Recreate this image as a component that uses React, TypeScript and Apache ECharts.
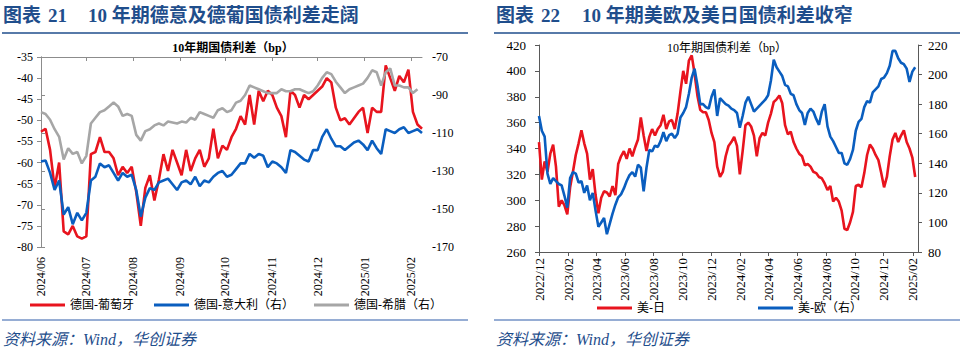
import React, { useEffect, useRef } from 'react';
import * as echarts from 'echarts';

// ---------- data ----------
const LEFT_STEP = 3; // days between points, left chart (day 0 = 2024/06/01)
const RIGHT_STEP = 6; // days between points, right chart (day 0 = 2022/12/01)
const LEFT_X_MAX = 252;
const RIGHT_X_MAX = 804;

const leftMonthLabels = ['2024/06', '2024/07', '2024/08', '2024/09', '2024/10', '2024/11', '2024/12', '2025/01', '2025/02'];
const rightMonthLabels = ['2022/12', '2023/02', '2023/04', '2023/06', '2023/08', '2023/10', '2023/12', '2024/02', '2024/04', '2024/06', '2024/08', '2024/10', '2024/12', '2025/02'];

// 德国-葡萄牙 (left axis)
const dePt = [
  -52.7, -52, -57, -66, -60, -76.3, -77, -75, -77.5, -78,
  -77.5, -58, -57.5, -54, -57.5, -57.5, -59, -63, -61, -62.5,
  -61, -67, -75, -66, -63, -69, -64, -58, -62, -57,
  -60, -63, -57, -62, -59, -57, -61, -59, -52, -59,
  -56, -57, -54, -52, -49, -51, -44, -51, -43, -45.5,
  -43, -44, -47, -49, -54, -43, -44, -47, -44, -45,
  -44, -43, -42, -40, -41, -47, -50, -49.5, -51, -49.5,
  -48, -47, -53, -47, -48, -48, -37, -40, -43, -39.5,
  -41, -38, -48, -51, -52,
];
// 德国-意大利（右）
const deIt = [
  -125, -124.5, -131, -140, -135, -153, -149, -158, -152, -156,
  -152, -135, -133, -126, -128, -127, -131, -135, -131, -133,
  -132, -140, -154, -144, -139, -140, -136, -135, -134, -137,
  -140, -136, -135, -137, -133, -138, -135, -136, -133, -131,
  -130, -133, -132, -129, -126, -126, -121, -123, -121, -122,
  -128, -125, -126, -128, -131, -119, -120, -122, -124, -125,
  -119, -119, -112, -108, -113, -117, -117, -119, -117, -115,
  -114, -116, -119, -114, -118, -121, -108, -109, -110, -108,
  -107, -110, -109, -108, -110,
];
// 德国-希腊（右）
const deGr = [
  -99, -100, -103, -108, -112, -124, -118, -121, -120, -126,
  -122, -105, -102, -99, -98, -96, -94, -96, -101, -100,
  -101, -111, -114, -109, -108, -106, -105, -106, -104, -104.5,
  -105, -104, -104.5, -102, -103, -99, -100, -101, -102, -98,
  -97, -99, -98, -94, -93, -90, -85, -86, -87, -88,
  -89, -89, -89, -87, -88, -88, -87, -87, -88, -89,
  -88, -85, -81, -78, -79, -83, -86, -89, -87, -86,
  -85, -84, -81, -77, -78, -85, -78, -76, -85, -85,
  -86, -86, -89, -87, null,
];
// 美-日 (left axis)
const usJp = [
  345, 316, 330, 322, 336, 343, 326, 295, 300, 296,
  289, 310, 322, 335, 344, 354, 344, 336, 316, 324,
  304, 290, 302, 307, 306, 303, 311, 304, 328, 334,
  338, 332, 340, 334, 341, 347, 364, 350, 338, 349,
  355, 350, 355, 358, 366, 355, 361, 362, 355, 367,
  384, 400, 390, 408, 412, 398, 381, 370, 368, 368,
  362, 352, 345, 326, 318, 322, 334, 342, 345, 349,
  342, 320, 338, 358, 360, 357, 350, 334, 348, 352,
  350, 360, 367, 376, 378, 381, 375, 358, 351, 353,
  345, 340, 336, 334, 327, 328, 326, 322, 321, 318,
  317, 313, 308, 311, 299, 302, 299, 292, 278, 277,
  283, 291, 311, 312, 310, 321, 335, 343, 340, 335,
  331, 321, 310, 318, 334, 347, 352, 345, 350, 354,
  345, 340, 333, 318,
];
// 美-欧（右）
const usEu = [
  172, 162, 158, 133, 126, 130, 128, 126, 125, 118,
  110, 130, 134, 133, 127, 128, 120, 125, 115, 120,
  108, 97, 100, 103, 92, 99, 106, 112, 117, 119,
  123, 128, 132, 134, 131, 139, 137, 121, 137, 149,
  148, 152, 151, 155, 161, 155, 159, 160, 157, 160,
  171, 174, 178, 187, 198, 204, 193, 180, 180, 178,
  177, 185, 190, 172, 184, 182, 180, 179, 177, 176,
  174, 164, 172, 181, 185, 180, 175, 177, 179, 181,
  183, 186, 196, 210, 205, 202, 199, 193, 192, 187,
  186, 180, 176, 174, 166, 174, 177, 175, 170, 166,
  175, 180, 165, 158, 155, 151, 147, 147, 140, 139,
  143, 149, 162, 168, 170, 178, 182, 181, 188, 190,
  192, 197, 198, 201, 206, 216, 216, 211, 208, 207,
  204, 195, 202, 205,
];

// ---------- helpers ----------
const DAY = 86400000;
const dayOffset = (label: string, originY: number, originM: number) => {
  const [y, m] = label.split('/').map(Number);
  return Math.round((Date.UTC(y, m - 1, 1) - Date.UTC(originY, originM - 1, 1)) / DAY);
};
const leftDays = leftMonthLabels.map((l) => dayOffset(l, 2024, 6));
const rightDays = rightMonthLabels.map((l) => dayOffset(l, 2022, 12));
const toXY = (vals: (number | null)[], step: number) => vals.map((v, i) => [i * step, v]);

const NUM_FONT = "'Liberation Serif', 'Times New Roman', 'Noto Sans CJK SC', serif";
const CJK_FONT = "'Liberation Serif', 'Noto Sans CJK SC', sans-serif";
const TITLE_COLOR = '#1F4E8C';
const RED = '#E8141E';
const BLUE = '#0A5EBF';
const GREY = '#A6A6A6';

export default function App() {
  const ref = useRef<HTMLDivElement>(null);

  useEffect(() => {
    if (!ref.current) return;
    const chart = echarts.init(ref.current, undefined, { renderer: 'svg' });

    const leftLabelMap: Record<number, string> = {};
    leftDays.forEach((d, i) => (leftLabelMap[d] = leftMonthLabels[i]));
    const rightLabelMap: Record<number, string> = {};
    rightDays.forEach((d, i) => (rightLabelMap[d] = rightMonthLabels[i]));

    const txt = (text: string, x: number, y: number, font: string, fill: string, align = 'left') => ({
      type: 'text',
      x,
      y,
      silent: true,
      style: { text, font, fill, textAlign: align, textVerticalAlign: 'middle', align, verticalAlign: 'middle' },
    });
    const ln = (x1: number, y1: number, x2: number, y2: number, stroke: string, w: number) => ({
      type: 'line',
      silent: true,
      shape: { x1, y1, x2, y2 },
      style: { stroke, lineWidth: w },
    });

    const titleFont = `bold 19px ${CJK_FONT}`;
    const option: any = {
      animation: false,
      backgroundColor: '#ffffff',
      textStyle: { fontFamily: NUM_FONT },
      grid: [
        { left: 41, top: 57, width: 381, height: 190, outerBoundsMode: 'none', containLabel: false },
        { left: 539, top: 45, width: 379, height: 207, outerBoundsMode: 'none', containLabel: false },
      ],
      xAxis: [
        {
          gridIndex: 0, type: 'value', position: 'bottom', min: 0, max: LEFT_X_MAX,
          axisLine: { show: false }, axisTick: { show: false }, splitLine: { show: false },
          axisLabel: {
            customValues: leftDays, rotate: 90, margin: 10, fontSize: 12, color: '#000',
            fontFamily: NUM_FONT, formatter: (v: number) => leftLabelMap[v] ?? '',
          },
        },
        {
          gridIndex: 0, type: 'value', position: 'top', min: 0, max: LEFT_X_MAX,
          axisLine: { show: true, lineStyle: { color: '#8C8C8C', width: 1 } },
          axisTick: { show: true, inside: true, length: 4, customValues: leftDays, lineStyle: { color: '#8C8C8C' } },
          axisLabel: { show: false }, splitLine: { show: false },
        },
        {
          gridIndex: 1, type: 'value', position: 'bottom', min: 0, max: RIGHT_X_MAX,
          axisLine: { show: true, onZero: false, lineStyle: { color: '#595959', width: 1 } },
          axisTick: { show: true, length: 4, customValues: rightDays, lineStyle: { color: '#595959' } },
          splitLine: { show: false },
          axisLabel: {
            customValues: rightDays, rotate: 90, margin: 6, fontSize: 13, color: '#000',
            fontFamily: NUM_FONT, formatter: (v: number) => rightLabelMap[v] ?? '',
          },
        },
      ],
      yAxis: [
        {
          gridIndex: 0, type: 'value', position: 'left', min: -80, max: -35, interval: 5,
          axisLine: { show: true, lineStyle: { color: '#8C8C8C' } },
          axisTick: { show: true, length: 4, lineStyle: { color: '#8C8C8C' } },
          axisLabel: { margin: 8, fontSize: 12, color: '#000', fontFamily: NUM_FONT },
          splitLine: { show: false },
        },
        {
          gridIndex: 0, type: 'value', position: 'right', min: -170, max: -70, interval: 20,
          axisLine: { show: true, lineStyle: { color: '#8C8C8C' } },
          axisTick: { show: true, length: 4, lineStyle: { color: '#8C8C8C' } },
          axisLabel: { margin: 10, fontSize: 12, color: '#000', fontFamily: NUM_FONT },
          splitLine: { show: false },
        },
        {
          gridIndex: 1, type: 'value', position: 'left', min: 260, max: 420, interval: 20,
          axisLine: { show: true, lineStyle: { color: '#595959' } },
          axisTick: { show: true, length: 4, lineStyle: { color: '#595959' } },
          axisLabel: { margin: 13, fontSize: 13, color: '#000', fontFamily: NUM_FONT },
          splitLine: { show: false },
        },
        {
          gridIndex: 1, type: 'value', position: 'right', min: 80, max: 220, interval: 20,
          axisLine: { show: true, lineStyle: { color: '#595959' } },
          axisTick: { show: true, length: 4, lineStyle: { color: '#595959' } },
          axisLabel: { margin: 10, fontSize: 13, color: '#000', fontFamily: NUM_FONT },
          splitLine: { show: false },
        },
      ],
      legend: [
        {
          data: ['德国-葡萄牙', '德国-意大利（右）', '德国-希腊（右）'],
          left: 30, top: 299, padding: 0, icon: 'rect', itemWidth: 35, itemHeight: 3, itemGap: 20,
          selectedMode: false,
          textStyle: { fontSize: 12, color: '#000', fontFamily: CJK_FONT },
        },
        {
          data: ['美-日', '美-欧（右）'],
          left: 597, top: 302, padding: 0, icon: 'rect', itemWidth: 35, itemHeight: 3, itemGap: 93,
          selectedMode: false,
          textStyle: { fontSize: 12, color: '#000', fontFamily: CJK_FONT },
        },
      ],
      series: [
        {
          name: '德国-葡萄牙', type: 'line', xAxisIndex: 0, yAxisIndex: 0, data: toXY(dePt, LEFT_STEP),
          showSymbol: false, symbol: 'none', lineStyle: { color: RED, width: 2.6 }, itemStyle: { color: RED },
        },
        {
          name: '德国-意大利（右）', type: 'line', xAxisIndex: 0, yAxisIndex: 1, data: toXY(deIt, LEFT_STEP),
          showSymbol: false, symbol: 'none', lineStyle: { color: BLUE, width: 2.6 }, itemStyle: { color: BLUE },
        },
        {
          name: '德国-希腊（右）', type: 'line', xAxisIndex: 0, yAxisIndex: 1, data: toXY(deGr, LEFT_STEP),
          showSymbol: false, symbol: 'none', lineStyle: { color: GREY, width: 2.6 }, itemStyle: { color: GREY },
        },
        {
          name: '美-日', type: 'line', xAxisIndex: 2, yAxisIndex: 2, data: toXY(usJp, RIGHT_STEP),
          showSymbol: false, symbol: 'none', lineStyle: { color: RED, width: 2.6 }, itemStyle: { color: RED },
        },
        {
          name: '美-欧（右）', type: 'line', xAxisIndex: 2, yAxisIndex: 3, data: toXY(usEu, RIGHT_STEP),
          showSymbol: false, symbol: 'none', lineStyle: { color: BLUE, width: 2.6 }, itemStyle: { color: BLUE },
        },
      ],
      graphic: [
        txt('图表', 3, 15, titleFont, TITLE_COLOR),
        txt('21', 48, 15, titleFont, TITLE_COLOR),
        txt('10 年期德意及德葡国债利差走阔', 88, 15, titleFont, TITLE_COLOR),
        txt('图表', 496, 15, titleFont, TITLE_COLOR),
        txt('22', 541, 15, titleFont, TITLE_COLOR),
        txt('10 年期美欧及美日国债利差收窄', 582, 15, titleFont, TITLE_COLOR),
        ln(2, 33, 468, 33, TITLE_COLOR, 1.5),
        ln(494, 33, 960, 33, TITLE_COLOR, 1.5),
        txt('10年期国债利差（bp）', 233, 48, `bold 12px ${CJK_FONT}`, '#000', 'center'),
        txt('10年期国债利差（bp）', 727, 48, `12px ${CJK_FONT}`, '#000', 'center'),
        ln(2, 320, 468, 320, '#7392C6', 1.5),
        ln(494, 320, 960, 320, '#7392C6', 1.5),
        txt('资料来源：Wind，华创证券', 3, 339, `italic 16px ${CJK_FONT}`, TITLE_COLOR),
        txt('资料来源：Wind，华创证券', 496, 339, `italic 16px ${CJK_FONT}`, TITLE_COLOR),
      ],
    };

    chart.setOption(option);
    return () => chart.dispose();
  }, []);

  return (
    <div
      ref={ref}
      style={{ position: 'absolute', left: 0, top: 0, width: 960, height: 351, background: '#fff' }}
    />
  );
}
